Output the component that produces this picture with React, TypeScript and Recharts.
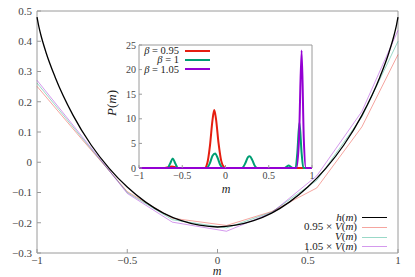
import React from "react";
import { LineChart, Line, XAxis, YAxis, ReferenceArea } from "recharts";

// main plot: h(m) and the three scaled V(m)
const hM = [-1, -0.99, -0.98, -0.95, -0.9, -0.8, -0.7, -0.6, -0.5, -0.4, -0.3, -0.2, -0.1, 0, 0.1, 0.2, 0.3, 0.4, 0.5, 0.6, 0.7, 0.8, 0.9, 0.95, 0.98, 0.99, 1];
const hVals = [0.48, 0.449, 0.424, 0.363, 0.282, 0.155, 0.057, -0.02, -0.082, -0.131, -0.168, -0.193, -0.208, -0.214, -0.208, -0.193, -0.168, -0.131, -0.082, -0.02, 0.057, 0.155, 0.282, 0.363, 0.424, 0.449, 0.48];

const vM = [-1, -0.75, -0.5, -0.25, 0.05, 0.3, 0.55, 0.8, 1];
const v095 = [0.251, 0.075, -0.097, -0.185, -0.209, -0.163, -0.085, 0.117, 0.356];
const v100 = [0.262, 0.08, -0.1, -0.19, -0.217, -0.165, -0.06, 0.15, 0.4];
const v105 = [0.271, 0.085, -0.103, -0.198, -0.228, -0.167, -0.045, 0.168, 0.436];

const mainXTicks = [-1, -0.5, 0, 0.5, 1];
const mainYTicks = [-0.3, -0.2, -0.1, 0, 0.1, 0.2, 0.3, 0.4, 0.5];

// inset: P(m) for three betas
const pM095 = [-1, -0.7, -0.66, -0.62, -0.58, -0.55, -0.24, -0.21, -0.18, -0.15, -0.13, -0.11, -0.08, -0.05, -0.02, 0, 1];
const p095 = [0, 0, 0.15, 0.3, 0.15, 0, 0, 1.0, 4.5, 9.8, 11.8, 10.0, 5.0, 1.5, 0.2, 0, 0];

const pM100 = [-1, -0.67, -0.64, -0.61, -0.58, -0.55, -0.22, -0.18, -0.15, -0.12, -0.09, -0.06, -0.03, 0.19, 0.23, 0.26, 0.28, 0.31, 0.34, 0.37, 0.68, 0.705, 0.73, 0.755, 0.78, 0.81, 0.83, 0.855, 0.88, 0.9, 1];
const p100 = [0, 0, 0.9, 1.95, 0.9, 0, 0, 1.0, 2.5, 2.96, 2.0, 0.6, 0, 0, 1.0, 2.2, 2.4, 1.6, 0.4, 0, 0, 0.25, 0.5, 0.25, 0, 0, 3.0, 9.2, 3.0, 0, 0];

const pM105 = [-1, 0.82, 0.85, 0.88, 0.905, 0.93, 1];
const p105 = [0, 0, 6.0, 23.9, 6.0, 0, 0];

const insetXTicks = [-1, -0.5, 0, 0.5, 1];
const insetYTicks = [0, 5, 10, 15, 20, 25];

const RED = "#e51e10";
const GREEN = "#009e73";
const PURPLE = "#9400d3";
const FONT = '"Liberation Serif", "DejaVu Serif", serif';
const GRAY = "#9a9a9a";
const TEXT = "#444";

const rows = (ms: number[], vs: number[]) => ms.map((m, i) => ({ m, y: vs[i] }));
const fmt = (v: number) => (v < 0 ? "\u2212" + String(-v) : String(v));

const tickStyle = { fill: TEXT, fontSize: 11, fontFamily: FONT };
const insetTickStyle = { fill: TEXT, fontSize: 10, fontFamily: FONT };

const mainLegend = [
  { label: <><i>h</i>(<i>m</i>)</>, color: "#000", opacity: 1, w: 1.4 },
  { label: <>0.95 × <i>V</i>(<i>m</i>)</>, color: RED, opacity: 0.4, w: 1 },
  { label: <><i>V</i>(<i>m</i>)</>, color: GREEN, opacity: 0.4, w: 1 },
  { label: <>1.05 × <i>V</i>(<i>m</i>)</>, color: PURPLE, opacity: 0.4, w: 1 },
];

const insetLegend = [
  { label: <><i>β</i> = 0.95</>, color: RED },
  { label: <><i>β</i> = 1</>, color: GREEN },
  { label: <><i>β</i> = 1.05</>, color: PURPLE },
];

export default function App() {
  return (
    <div style={{ position: "absolute", left: 0, top: 0, width: 415, height: 277, background: "#fff", fontFamily: FONT }}>
      <style>{`.recharts-text { font-family: ${FONT}; }`}</style>
      <LineChart width={415} height={277} margin={{ top: 10, right: 16, bottom: 0, left: 0 }}>
        <XAxis
          type="number"
          dataKey="m"
          domain={[-1, 1]}
          ticks={mainXTicks}
          tickFormatter={fmt}
          height={24}
          axisLine={false}
          tickLine={{ stroke: GRAY }}
          tickSize={-4}
          tickMargin={7}
          tick={tickStyle}
        />
        <XAxis xAxisId="top" orientation="top" type="number" domain={[-1, 1]} ticks={mainXTicks} height={1} axisLine={false} tickLine={{ stroke: GRAY }} tickSize={-4} tick={false} />
        <YAxis
          type="number"
          domain={[-0.3, 0.5]}
          ticks={mainYTicks}
          tickFormatter={fmt}
          width={37}
          axisLine={false}
          tickLine={{ stroke: GRAY }}
          tickSize={-4}
          tickMargin={9}
          tick={tickStyle}
        />
        <YAxis yAxisId="right" orientation="right" type="number" domain={[-0.3, 0.5]} ticks={mainYTicks} width={1} axisLine={false} tickLine={{ stroke: GRAY }} tickSize={-4} tick={false} />
        <ReferenceArea x1={-1} x2={1} y1={-0.3} y2={0.5} fill="none" stroke={GRAY} strokeWidth={1} />
        <Line data={rows(vM, v095)} dataKey="y" type="linear" stroke={RED} strokeOpacity={0.4} strokeWidth={1} dot={false} isAnimationActive={false} />
        <Line data={rows(vM, v100)} dataKey="y" type="linear" stroke={GREEN} strokeOpacity={0.4} strokeWidth={1} dot={false} isAnimationActive={false} />
        <Line data={rows(vM, v105)} dataKey="y" type="linear" stroke={PURPLE} strokeOpacity={0.4} strokeWidth={1} dot={false} isAnimationActive={false} />
        <Line data={rows(hM, hVals)} dataKey="y" type="monotone" stroke="#000" strokeWidth={1.3} dot={false} isAnimationActive={false} />
      </LineChart>

      <div style={{ position: "absolute", left: 207, top: 266, width: 20, textAlign: "center", fontSize: 12, lineHeight: "10px", fontStyle: "italic", color: "#222" }}>m</div>

      {mainLegend.map((e, i) => (
        <React.Fragment key={i}>
          <div style={{ position: "absolute", right: 415 - 357, top: 212.5 + i * 9.8, fontSize: 11, lineHeight: "9px", color: "#222", whiteSpace: "nowrap" }}>{e.label}</div>
          <div style={{ position: "absolute", left: 362, width: 25, top: 217 + i * 9.8, height: e.w, background: e.color, opacity: e.opacity }} />
        </React.Fragment>
      ))}

      <div style={{ position: "absolute", left: 100, top: 36 }}>
        <LineChart width={240} height={165} margin={{ top: 8, right: 0, bottom: 0, left: 0 }}>
          <XAxis
            type="number"
            dataKey="m"
            domain={[-1, 1]}
            ticks={insetXTicks}
            tickFormatter={fmt}
            height={33}
            axisLine={false}
            tickLine={{ stroke: GRAY }}
            tickSize={-3}
            tickMargin={7}
            tick={insetTickStyle}
          />
          <XAxis xAxisId="top" orientation="top" type="number" domain={[-1, 1]} ticks={insetXTicks} height={1} axisLine={false} tickLine={{ stroke: GRAY }} tickSize={-3} tick={false} />
          <YAxis
            type="number"
            domain={[0, 25]}
            ticks={insetYTicks}
            width={39}
            axisLine={false}
            tickLine={{ stroke: GRAY }}
            tickSize={-3}
            tickMargin={6}
            tick={insetTickStyle}
          />
          <YAxis
            yAxisId="right"
            orientation="right"
            type="number"
            domain={[0, 25]}
            ticks={insetYTicks}
            width={28}
            axisLine={false}
            tickLine={{ stroke: GRAY }}
            tickSize={-3}
            tickMargin={8}
            tick={{ ...insetTickStyle, textAnchor: "start" }}
          />
          <ReferenceArea x1={-1} x2={1} y1={0} y2={25} fill="none" stroke={GRAY} strokeWidth={1} />
          <Line data={rows(pM095, p095)} dataKey="y" type="monotone" stroke={RED} strokeWidth={2} dot={false} isAnimationActive={false} />
          <Line data={rows(pM100, p100)} dataKey="y" type="monotone" stroke={GREEN} strokeWidth={2} dot={false} isAnimationActive={false} />
          <Line data={rows(pM105, p105)} dataKey="y" type="monotone" stroke={PURPLE} strokeWidth={2} dot={false} isAnimationActive={false} />
        </LineChart>
      </div>

      <div style={{ position: "absolute", left: 216, top: 184, width: 20, textAlign: "center", fontSize: 12, lineHeight: "10px", fontStyle: "italic", color: "#222" }}>m</div>
      <div style={{ position: "absolute", left: 92, top: 95, width: 40, textAlign: "center", fontSize: 13, color: "#222", transform: "rotate(-90deg)", whiteSpace: "nowrap" }}>
        <i>P</i>(<i>m</i>)
      </div>

      {insetLegend.map((e, i) => (
        <React.Fragment key={i}>
          <div style={{ position: "absolute", right: 415 - 179, top: 46 + i * 9.3, fontSize: 10.5, lineHeight: "9px", color: "#222", whiteSpace: "nowrap" }}>{e.label}</div>
          <div style={{ position: "absolute", left: 185, width: 25, top: 49.7 + i * 9.3, height: 2, background: e.color }} />
        </React.Fragment>
      ))}
    </div>
  );
}
